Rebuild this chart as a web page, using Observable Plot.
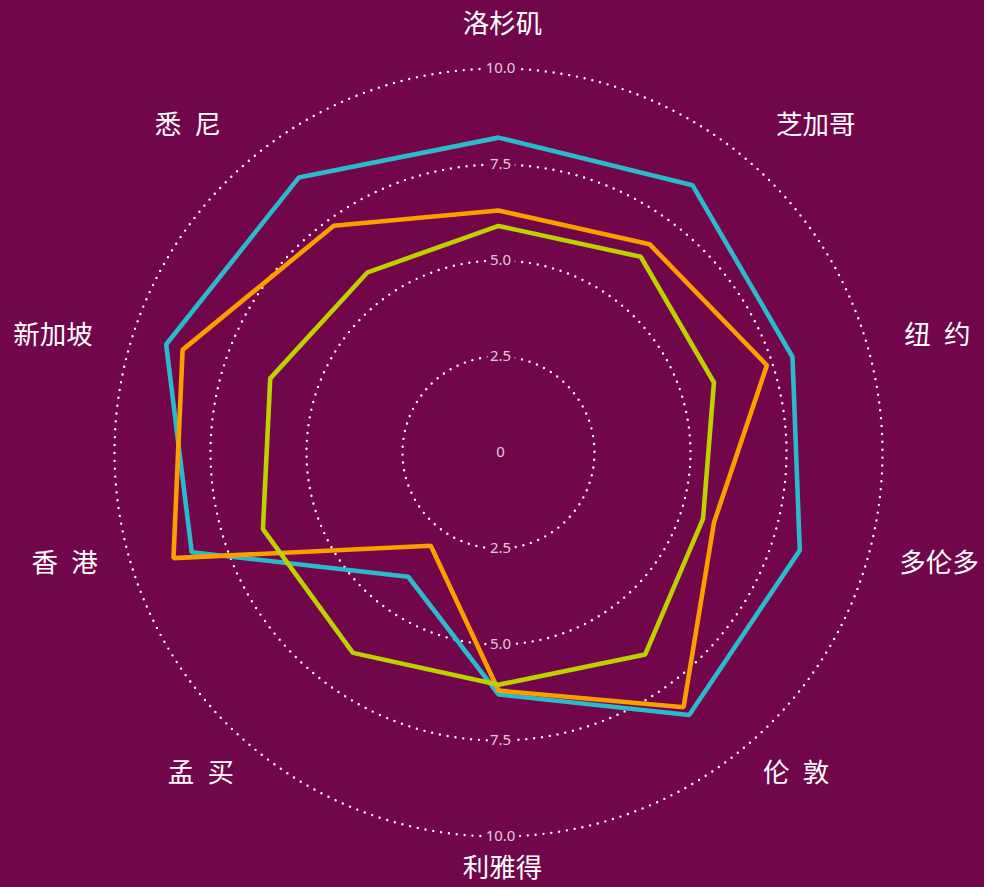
<!DOCTYPE html>
<html>
<head>
<meta charset="utf-8">
<script src="https://cdn.jsdelivr.net/npm/d3@7"></script>
<script src="https://cdn.jsdelivr.net/npm/@observablehq/plot@0.6"></script>
<style>
  html, body { margin: 0; padding: 0; background: #72064a; }
  #chart svg { display: block; }
</style>
</head>
<body>
<div id="chart"></div>
<script>
// ---- data ----
const cities = ["洛杉矶", "芝加哥", "纽 约", "多伦多", "伦 敦", "利雅得", "孟 买", "香 港", "新加坡", "悉 尼"];
const seriesNames = ["系列一", "系列二", "系列三"];
const series1Values = [8.2, 8.6, 8.05, 8.25, 8.45, 6.3, 4.0, 8.4, 9.1, 8.85];
const series2Values = [6.3, 6.7, 7.35, 5.9, 8.2, 6.2, 3.0, 8.9, 8.65, 7.3];
const series3Values = [5.9, 6.3, 5.9, 5.6, 6.5, 6.05, 6.45, 6.45, 6.25, 5.8];
const ringValues = [2.5, 5, 7.5, 10];
const ringLabels = ["2.5", "5.0", "7.5", "10.0"];
const centerLabel = "0";
const maxValue = 10;

// ---- layout / style ----
const W = 984, H = 887;
const cx = 498, cy = 452, R = 384;
const unit = R / maxValue; // px per data unit
const bg = "#72064a";
const colors = ["#2bb9cc", "#f9a000", "#bdd000"];

const n = cities.length;
const angle = i => (i * 2 * Math.PI) / n;

// series polygon points
const allSeries = [series1Values, series2Values, series3Values];
const polyData = [];
allSeries.forEach((vals, s) => {
  vals.forEach((v, i) => {
    polyData.push({series: seriesNames[s], x: v * Math.sin(angle(i)), y: v * Math.cos(angle(i))});
  });
});

// ring circles
const ringData = [];
ringValues.forEach(r => {
  for (let d = 0; d < 360; d += 1) {
    const a = (d * Math.PI) / 180;
    ringData.push({ring: r, x: r * Math.sin(a), y: r * Math.cos(a)});
  }
});

// ring labels top and bottom
const ringLabelData = [];
ringValues.forEach((r, k) => {
  ringLabelData.push({x: 0, y: r, t: ringLabels[k]});
  ringLabelData.push({x: 0, y: -r, t: ringLabels[k]});
});
ringLabelData.push({x: 0, y: 0, t: centerLabel});

// city labels placement (pixel offsets -> data units); side labels anchored at inner edge
const cityLabelData = cities.map((c, i) => {
  const a = angle(i);
  const s = Math.sin(a), co = Math.cos(a);
  let px, py, side; // px right, py up
  if (Math.abs(s) < 0.01) {
    px = 4;
    py = co > 0 ? 428 : -416;
    side = "middle";
  } else {
    px = Math.sign(s) * (364 * Math.abs(s) + 57 + 8 * co);
    py = 420 * co - 16 * Math.sign(co) + 3;
    side = s > 0 ? "start" : "end";
  }
  return {x: px / unit, y: py / unit, t: c.replace(" ", "\u2002"), side};
});

const labelMark = side => Plot.text(cityLabelData.filter(d => d.side === side), {
  x: "x", y: "y", text: "t", fill: "#ffffff", fontSize: 26.5, textAnchor: side,
  fontFamily: "Noto Sans CJK SC, sans-serif"
});

const plot = Plot.plot({
  width: W,
  height: H,
  margin: 0,
  x: {domain: [-maxValue, maxValue], range: [cx - R, cx + R], axis: null},
  y: {domain: [-maxValue, maxValue], range: [cy + R, cy - R], axis: null},
  color: {domain: seriesNames, range: colors},
  style: {background: bg, overflow: "visible"},
  marks: [
    Plot.line(ringData, {
      x: "x", y: "y", z: "ring", curve: "linear-closed",
      stroke: "#ffffff", strokeWidth: 2.4, strokeDasharray: "0 7.9", strokeLinecap: "round"
    }),
    Plot.text(ringLabelData, {
      x: "x", y: "y", text: "t", fill: "rgba(255,255,255,0.8)",
      stroke: bg, strokeWidth: 9, fontSize: 15, fontFamily: "Noto Sans, DejaVu Sans, sans-serif", dx: 2
    }),
    Plot.line(polyData, {
      x: "x", y: "y", z: "series", stroke: "series", curve: "linear-closed",
      strokeWidth: 4.6, strokeLinejoin: "miter"
    }),
    labelMark("middle"),
    labelMark("start"),
    labelMark("end")
  ]
});

document.getElementById("chart").appendChild(plot);
</script>
</body>
</html>
